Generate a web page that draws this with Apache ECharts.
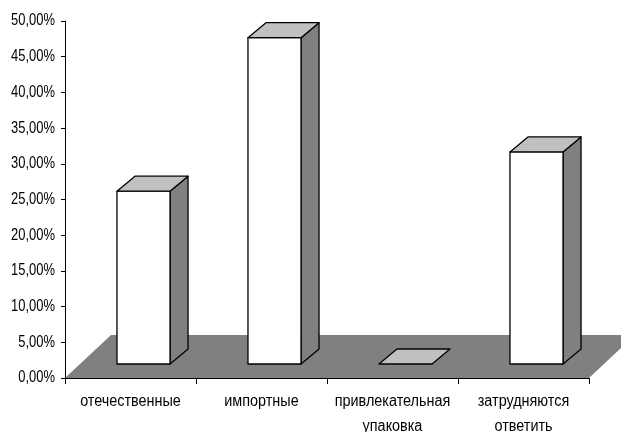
<!DOCTYPE html>
<html>
<head>
<meta charset="utf-8">
<script src="https://cdn.jsdelivr.net/npm/echarts@6/dist/echarts.min.js"></script>
<style>
  html, body { margin: 0; padding: 0; background: #fff; }
  #chart { width: 621px; height: 432px; }
</style>
</head>
<body>
<div id="chart"></div>
<script>
// Survey shares by answer option (percent)
const categories = ['отечественные', 'импортные', 'привлекательная\nупаковка', 'затрудняются\nответить'];
const shares = [24.2, 45.7, 0, 29.7];
const yTicks = { min: 0, max: 50, step: 5 };

// Narrow lettering: no condensed face is installed, so axis text is
// squeezed horizontally around its anchor point when drawn.
const Y_FONT = '"Liberation Sans", sans-serif';
const X_FONT = 'Arial, "Liberation Sans", sans-serif';
(function () {
  const proto = CanvasRenderingContext2D.prototype;
  const origFill = proto.fillText;
  proto.fillText = function (text, x, y, maxWidth) {
    const f = this.font || '';
    let sx = 1;
    if (f.indexOf('Arial') >= 0) sx = 0.9;
    else if (f.indexOf('Liberation Sans') >= 0) sx = 0.81;
    if (sx === 1) return origFill.apply(this, arguments);
    this.save();
    this.translate(x, y);
    this.scale(sx, 1);
    if (maxWidth !== undefined) origFill.call(this, text, 0, 0, maxWidth / sx);
    else origFill.call(this, text, 0, 0);
    this.restore();
  };
})();

// pseudo-3D geometry (pixels)
const FLOOR_DEPTH = [46, -43];
const BAR_SHIFT = [13, -14];   // front face offset from the axis plane
const BAR_DEPTH = [18, -15];   // depth of each column
const BAR_FRAC = 0.405;        // column width as share of the category band

const chart = echarts.init(document.getElementById('chart'), null, { renderer: 'canvas' });

function floorItem(params, api) {
  const cs = params.coordSys;
  const x0 = cs.x, x1 = cs.x + cs.width, y = cs.y + cs.height;
  return {
    type: 'polygon',
    shape: { points: [[x0, y], [x1, y], [x1 + FLOOR_DEPTH[0], y + FLOOR_DEPTH[1]], [x0 + FLOOR_DEPTH[0], y + FLOOR_DEPTH[1]]] },
    style: { fill: '#808080', stroke: null },
    silent: true
  };
}

function barItem(params, api) {
  const idx = api.value(0);
  const base = api.coord([idx, 0]);
  const top = api.coord([idx, api.value(1)]);
  const band = api.size([1, 0])[0];
  const w = band * BAR_FRAC;
  const xl = base[0] - w / 2 + BAR_SHIFT[0];
  const xr = xl + w;
  const yb = base[1] + BAR_SHIFT[1];
  const yt = top[1] + BAR_SHIFT[1];
  const dx = BAR_DEPTH[0], dy = BAR_DEPTH[1];
  const line = { stroke: '#000', lineWidth: 1.3, lineJoin: 'round' };
  const children = [];
  if (yb - yt > 0.5) {
    children.push({
      type: 'polygon',
      shape: { points: [[xr, yb], [xr + dx, yb + dy], [xr + dx, yt + dy], [xr, yt]] },
      style: Object.assign({ fill: '#808080' }, line)
    });
    children.push({
      type: 'rect',
      shape: { x: xl, y: yt, width: w, height: yb - yt },
      style: Object.assign({ fill: '#ffffff' }, line)
    });
  }
  children.push({
    type: 'polygon',
    shape: { points: [[xl, yt], [xr, yt], [xr + dx, yt + dy], [xl + dx, yt + dy]] },
    style: Object.assign({ fill: '#c0c0c0' }, line)
  });
  return { type: 'group', children: children };
}

chart.setOption({
  animation: false,
  backgroundColor: '#ffffff',
  grid: { left: 65, right: 32, top: 21, bottom: 54, containLabel: false, outerBoundsMode: 'none' },
  xAxis: {
    type: 'category',
    data: categories,
    boundaryGap: true,
    axisLine: { show: true, onZero: false, lineStyle: { color: '#000', width: 1 } },
    axisTick: { show: true, length: 6, alignWithLabel: false, lineStyle: { color: '#000' } },
    axisLabel: { interval: 0, margin: 11, color: '#000', fontFamily: X_FONT, fontSize: 16, lineHeight: 25 },
    splitLine: { show: false },
    z: 10
  },
  yAxis: {
    type: 'value',
    min: yTicks.min,
    max: yTicks.max,
    interval: yTicks.step,
    axisLine: { show: true, lineStyle: { color: '#000', width: 1 } },
    axisTick: { show: true, length: 4, lineStyle: { color: '#000' } },
    axisLabel: {
      margin: 10, color: '#000', fontFamily: Y_FONT, fontSize: 16,
      formatter: v => v.toFixed(2).replace('.', ',') + '%'
    },
    splitLine: { show: false },
    z: 10
  },
  series: [
    {
      type: 'custom',
      renderItem: floorItem,
      data: [[0, 0]],
      clip: false,
      z: 1,
      silent: true
    },
    {
      type: 'custom',
      renderItem: barItem,
      data: shares.map((v, i) => [i, v]),
      encode: { x: 0, y: 1 },
      clip: false,
      z: 2,
      silent: true
    }
  ]
});
</script>
</body>
</html>
